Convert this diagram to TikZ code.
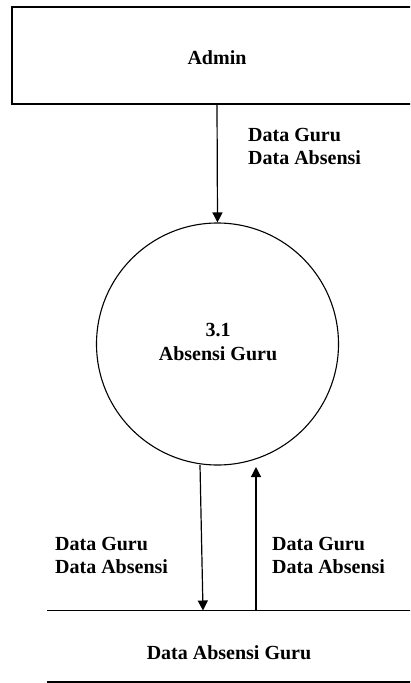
\documentclass[tikz,border=0pt]{standalone}
\usepackage{fontspec}
\setmainfont{Liberation Serif}
\usetikzlibrary{arrows.meta}
\begin{document}
\begin{tikzpicture}[x=1pt,y=-1pt,
  lbl/.style={font=\bfseries\fontsize{20}{23.5}\selectfont, inner sep=0pt},
  flow/.style={line width=1.2pt, -{Triangle[length=10pt,width=10pt]}},
  edge/.style={line width=1.1pt}]
\clip (0,0) rectangle (410,683);
\fill[white] (0,0) rectangle (410,683);
% external entity
\node[draw, edge, minimum width=410pt, minimum height=97pt, inner sep=0pt] (admin) at (217,55.5) {};
\node[lbl] (admint) at (217,57.5) {Admin};
% process
\node[draw, edge, circle, minimum size=242pt, inner sep=0pt] (proc) at (217.5,344) {};
\node[lbl, align=center] (proct) at (218,342) {3.1\\Absensi Guru};
% data store
\coordinate (stl) at (47,610.5);
\coordinate (str) at (420,610.5);
\coordinate (sbl) at (47,682);
\coordinate (sbr) at (420,682);
\draw[edge] (stl) -- (str);
\draw[edge] (sbl) -- (sbr);
\node[lbl] (storet) at (229,653) {Data Absensi Guru};
% flows
\coordinate (a1) at (217,104);
\draw[flow] (a1) -- (proc.north);
\node[lbl, align=left, anchor=west] (l1) at (248,146.5) {Data Guru\\Data Absensi};
\coordinate (d1) at (200,465);
\coordinate (d2) at (203,610.5);
\draw[flow] (d1) -- (d2);
\node[lbl, align=left, anchor=west] (l2) at (55,555.7) {Data Guru\\Data Absensi};
\coordinate (u1) at (256,610.5);
\coordinate (u2) at (256,467);
\draw[flow] (u1) -- (u2);
\node[lbl, align=left, anchor=west] (l3) at (272,555.7) {Data Guru\\Data Absensi};
\end{tikzpicture}
\end{document}
